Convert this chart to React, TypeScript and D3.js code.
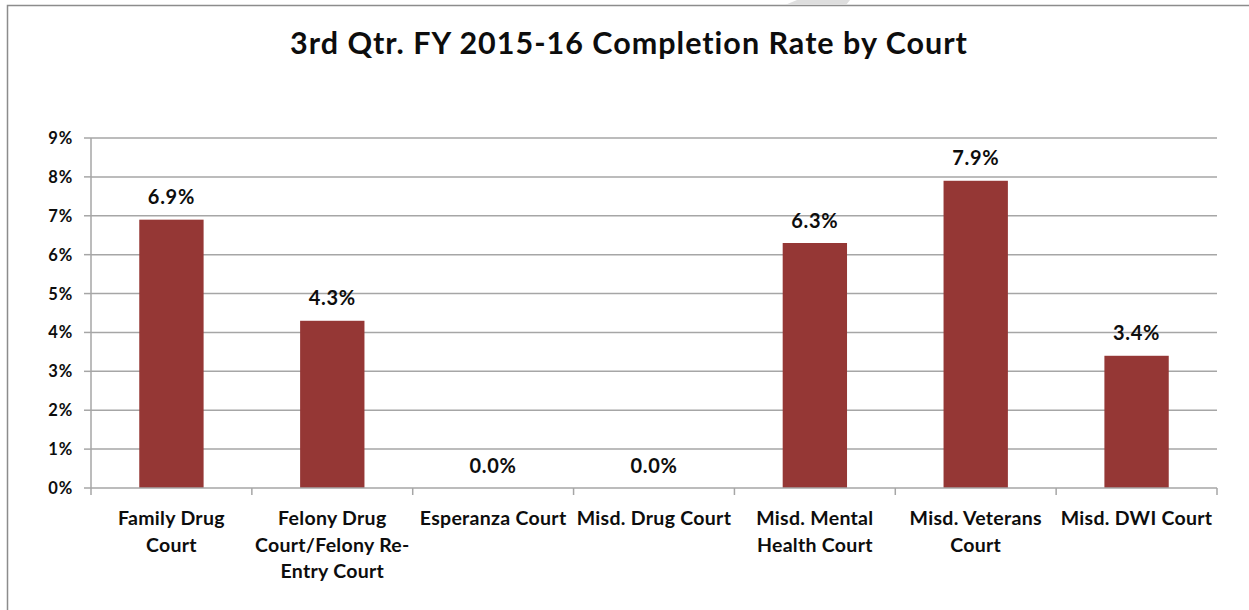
import { useEffect, useRef } from "react";
import * as d3 from "d3";

const courts = [
  "Family Drug Court",
  "Felony Drug Court/Felony Re-Entry Court",
  "Esperanza Court",
  "Misd. Drug Court",
  "Misd. Mental Health Court",
  "Misd. Veterans Court",
  "Misd. DWI Court",
];
const courtLabelLines = [
  ["Family Drug", "Court"],
  ["Felony Drug", "Court/Felony Re-", "Entry Court"],
  ["Esperanza Court"],
  ["Misd. Drug Court"],
  ["Misd. Mental", "Health Court"],
  ["Misd. Veterans", "Court"],
  ["Misd. DWI Court"],
];
const completionRate = [6.9, 4.3, 0.0, 0.0, 6.3, 7.9, 3.4];
const yTicks = [0, 1, 2, 3, 4, 5, 6, 7, 8, 9];
const title = "3rd Qtr. FY 2015-16 Completion Rate by Court";

export default function App() {
  const ref = useRef<SVGSVGElement>(null);

  useEffect(() => {
    const svg = d3.select(ref.current);
    svg.selectAll("*").remove();

    const W = 1249;
    const H = 610;
    const left = 91;
    const right = 1217;
    const top = 138;
    const bottom = 488;
    const font = "Lato, 'Open Sans', sans-serif";
    const textColor = "#0d0d0d";

    svg.append("rect").attr("width", W).attr("height", H).attr("fill", "#fff");

    // outer chart frame (runs off the right and bottom edges)
    svg
      .append("rect")
      .attr("x", 7.5)
      .attr("y", 5.5)
      .attr("width", W + 10)
      .attr("height", H + 10)
      .attr("fill", "none")
      .attr("stroke", "#8c8c8c")
      .attr("stroke-width", 1.5);

    // little grey tab at the top
    svg
      .append("polygon")
      .attr("points", "785,5 797,0 850,0 846,5")
      .attr("fill", "#dedede");

    const x = d3.scaleBand().domain(courts).range([left, right]).padding(0);
    const y = d3.scaleLinear().domain([0, 9]).range([bottom, top]);

    // gridlines
    svg
      .append("g")
      .selectAll("line")
      .data(yTicks.filter((t) => t > 0))
      .join("line")
      .attr("x1", left)
      .attr("x2", right)
      .attr("y1", (d) => y(d))
      .attr("y2", (d) => y(d))
      .attr("stroke", "#a6a6a6")
      .attr("stroke-width", 1.5);

    // y axis
    svg
      .append("line")
      .attr("x1", left)
      .attr("x2", left)
      .attr("y1", top)
      .attr("y2", bottom)
      .attr("stroke", "#a6a6a6")
      .attr("stroke-width", 1.5);
    svg
      .append("g")
      .selectAll("line")
      .data(yTicks)
      .join("line")
      .attr("x1", left - 7)
      .attr("x2", left)
      .attr("y1", (d) => y(d))
      .attr("y2", (d) => y(d))
      .attr("stroke", "#a6a6a6")
      .attr("stroke-width", 1.5);
    svg
      .append("g")
      .selectAll("text")
      .data(yTicks)
      .join("text")
      .attr("x", left - 18)
      .attr("y", (d) => y(d) + 6)
      .attr("text-anchor", "end")
      .attr("font-family", font)
      .attr("font-weight", "bold")
      .attr("font-size", 16.5)
      .attr("letter-spacing", 0.8)
      .attr("fill", textColor)
      .text((d) => `${d}%`);

    // bars
    const barW = x.bandwidth() * 0.4;
    svg
      .append("g")
      .selectAll("rect")
      .data(completionRate)
      .join("rect")
      .attr("x", (_, i) => x(courts[i])! + (x.bandwidth() - barW) / 2)
      .attr("y", (d) => y(d))
      .attr("width", barW)
      .attr("height", (d) => bottom - y(d))
      .attr("fill", "#953735");

    // x axis
    svg
      .append("line")
      .attr("x1", left)
      .attr("x2", right)
      .attr("y1", bottom)
      .attr("y2", bottom)
      .attr("stroke", "#a6a6a6")
      .attr("stroke-width", 1.5);
    const boundaries = courts.map((c) => x(c)!).concat([right]);
    svg
      .append("g")
      .selectAll("line")
      .data(boundaries)
      .join("line")
      .attr("x1", (d) => d)
      .attr("x2", (d) => d)
      .attr("y1", bottom)
      .attr("y2", bottom + 7)
      .attr("stroke", "#a6a6a6")
      .attr("stroke-width", 1.5);

    // value labels
    svg
      .append("g")
      .selectAll("text")
      .data(completionRate)
      .join("text")
      .attr("x", (_, i) => x(courts[i])! + x.bandwidth() / 2)
      .attr("y", (d) => y(d) - 15.5)
      .attr("text-anchor", "middle")
      .attr("font-family", font)
      .attr("font-weight", "bold")
      .attr("font-size", 20)
      .attr("letter-spacing", 0.7)
      .attr("fill", textColor)
      .text((d) => `${d.toFixed(1)}%`);

    // category labels
    const cat = svg
      .append("g")
      .selectAll("text")
      .data(courtLabelLines)
      .join("text")
      .attr("text-anchor", "middle")
      .attr("font-family", font)
      .attr("font-weight", "bold")
      .attr("font-size", 19.5)
      .attr("letter-spacing", 0.3)
      .attr("fill", textColor);
    cat
      .selectAll("tspan")
      .data((d, i) => d.map((line) => ({ line, i })))
      .join("tspan")
      .attr("x", (d) => x(courts[d.i])! + x.bandwidth() / 2)
      .attr("y", (_, j) => 525 + j * 26.5)
      .text((d) => d.line);

    // title
    svg
      .append("text")
      .attr("x", 629)
      .attr("y", 54)
      .attr("text-anchor", "middle")
      .attr("font-family", font)
      .attr("font-weight", "bold")
      .attr("font-size", 30.5)
      .attr("letter-spacing", 1)
      .attr("fill", textColor)
      .text(title);
  }, []);

  return (
    <svg
      ref={ref}
      width={1249}
      height={610}
      style={{ position: "absolute", left: 0, top: 0 }}
    />
  );
}
